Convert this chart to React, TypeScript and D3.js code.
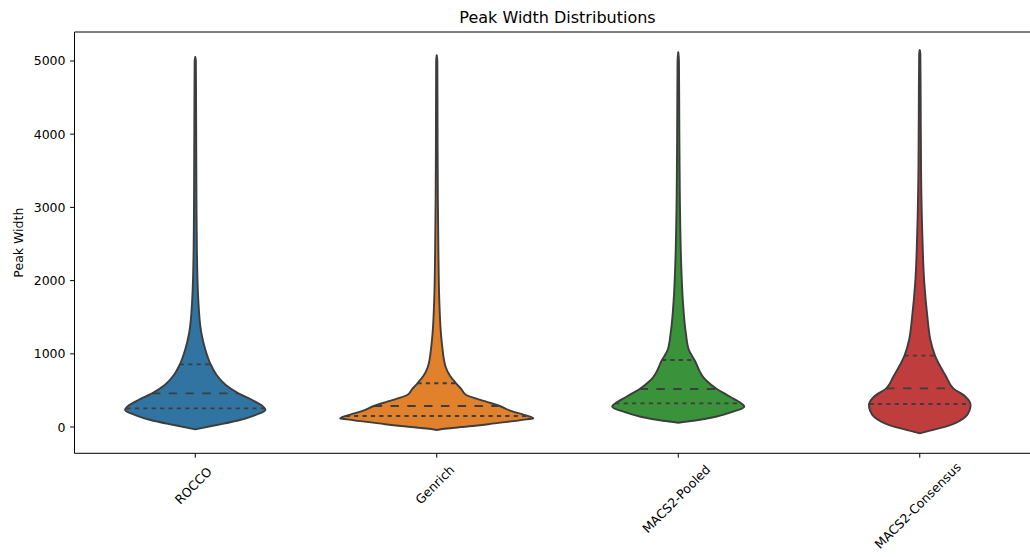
import { useEffect, useRef } from "react";
import * as d3 from "d3";

const categories = ["ROCCO", "Genrich", "MACS2-Pooled", "MACS2-Consensus"];
const fills = ["#3274a1", "#e1812c", "#3a923a", "#c03d3e"];
const yTicks = [0, 1000, 2000, 3000, 4000, 5000];

// density profiles (peak width, relative density)
const roccoValues = [-32, 27, 96, 164, 232, 300, 369, 464, 574, 710, 860, 1052, 1284, 1735, 2418, 3100, 3784, 4467, 5000, 5055];
const roccoDensity = [0, 21, 44, 59, 69, 65, 56, 42, 30, 21, 15, 10, 6, 3, 1.6, 1.2, 1, 0.8, 0.6, 0];

const genrichValues = [-40, -20, -4, 20, 50, 80, 105, 118, 135, 170, 220, 287, 350, 437, 520, 597, 700, 824, 1097, 1300, 1735, 2418, 3100, 4000, 5000, 5080];
const genrichDensity = [0, 10, 22, 40, 57, 75, 88, 95, 93, 85, 73, 62, 48, 29, 24, 19, 13, 8.7, 5.4, 4, 2.5, 1.6, 1.1, 0.8, 0.6, 0];

const pooledValues = [59, 86, 141, 209, 278, 323, 414, 519, 642, 915, 1052, 1280, 1735, 2190, 3100, 4000, 5000, 5120];
const pooledDensity = [0, 15, 37, 54, 65, 62, 51, 38, 27, 16, 10.5, 7.5, 4.5, 3, 1.6, 1.1, 0.7, 0];

const consensusValues = [-87, -50, 27, 141, 230, 300, 414, 528, 687, 975, 1189, 1507, 1962, 2650, 3500, 4500, 5100, 5150];
const consensusDensity = [0, 10, 30, 45, 49, 50, 45, 33, 26, 15, 10.5, 7.5, 4.5, 2.5, 1.3, 0.9, 0.6, 0];

const profileValues = [roccoValues, genrichValues, pooledValues, consensusValues];
const profileDensity = [roccoDensity, genrichDensity, pooledDensity, consensusDensity];

// 25th, 50th, 75th percentiles
const quartiles = [
    [255, 460, 856],
    [150, 287, 597],
    [323, 519, 915],
    [314, 528, 975],
];

const W = 1030;
const H = 557;
const FONT = "'DejaVu Sans', sans-serif";
const GRAY = "#3d3d3d";

export default function App() {
    const svgRef = useRef<SVGSVGElement>(null);

    useEffect(() => {
        const svg = d3.select(svgRef.current);
        svg.selectAll("*").remove();

        const margin = { top: 32, left: 74.5, bottom: 453.3, right: 1040.5 };

        const x = d3.scaleBand().domain(categories).range([margin.left, margin.right]);
        const y = d3.scaleLinear().domain([-359, 5396]).range([margin.bottom, margin.top]);
        const maxDensity = d3.max(profileDensity.flat()) as number;
        const w = d3.scaleLinear().domain([0, maxDensity]).range([0, x.bandwidth() * 0.4]);

        // violins
        categories.forEach((cat, i) => {
            const cx = (x(cat) as number) + x.bandwidth() / 2;
            const pts = profileValues[i].map((v, j) => ({ v, d: profileDensity[i][j] }));
            const area = d3
                .area<{ v: number; d: number }>()
                .y((p) => y(p.v))
                .x0((p) => cx - w(p.d))
                .x1((p) => cx + w(p.d))
                .curve(d3.curveMonotoneY);

            svg.append("path")
                .attr("d", area(pts))
                .attr("fill", fills[i])
                .attr("stroke", GRAY)
                .attr("stroke-width", 1.9)
                .attr("stroke-linejoin", "round");

            const dens = d3.scaleLinear().domain(profileValues[i]).range(profileDensity[i]);
            quartiles[i].forEach((q, k) => {
                const half = w(dens(q));
                const dash = k === 1 ? "8.4,8.4" : "4.2,4.2";
                svg.append("line")
                    .attr("x1", cx - half)
                    .attr("x2", cx + half)
                    .attr("y1", y(q))
                    .attr("y2", y(q))
                    .attr("stroke", GRAY)
                    .attr("stroke-width", 1.9)
                    .attr("stroke-dasharray", dash);
            });
        });

        // spines
        svg.append("path")
            .attr("d", `M${margin.right},${margin.top}H${margin.left}V${margin.bottom}H${margin.right}`)
            .attr("fill", "none")
            .attr("stroke", "#000")
            .attr("stroke-width", 1);

        // y axis
        const yAxis = svg.append("g");
        yTicks.forEach((t) => {
            yAxis.append("line")
                .attr("x1", margin.left - 4.4)
                .attr("x2", margin.left)
                .attr("y1", y(t))
                .attr("y2", y(t))
                .attr("stroke", "#000");
            yAxis.append("text")
                .attr("x", margin.left - 9)
                .attr("y", y(t))
                .attr("dy", "0.36em")
                .attr("text-anchor", "end")
                .attr("font-size", 12.5)
                .text(t);
        });

        // x axis
        const xAxis = svg.append("g");
        categories.forEach((cat) => {
            const cx = (x(cat) as number) + x.bandwidth() / 2;
            xAxis.append("line")
                .attr("x1", cx)
                .attr("x2", cx)
                .attr("y1", margin.bottom)
                .attr("y2", margin.bottom + 4.4)
                .attr("stroke", "#000");
            const label = xAxis.append("text")
                .attr("text-anchor", "middle")
                .attr("dominant-baseline", "central")
                .attr("font-size", 12.5)
                .text(cat);
            const len = (label.node() as SVGTextElement).getComputedTextLength();
            const side = (len + 12.5 * 1.16) * Math.SQRT1_2;
            const cy = margin.bottom + 12 + side / 2;
            label.attr("transform", `translate(${cx - 2},${cy}) rotate(-45)`);
        });

        // labels
        svg.append("text")
            .attr("x", (margin.left + margin.right) / 2)
            .attr("y", 23)
            .attr("text-anchor", "middle")
            .attr("font-size", 16)
            .text("Peak Width Distributions");

        svg.append("text")
            .attr("transform", `translate(23,${(margin.top + margin.bottom) / 2}) rotate(-90)`)
            .attr("text-anchor", "middle")
            .attr("font-size", 12.5)
            .text("Peak Width");

        svg.selectAll("text").attr("font-family", FONT).attr("fill", "#000");
    }, []);

    return (
        <svg
            ref={svgRef}
            width={W}
            height={H}
            style={{ position: "absolute", left: 0, top: 0, background: "#fff" }}
        ></svg>
    );
}
